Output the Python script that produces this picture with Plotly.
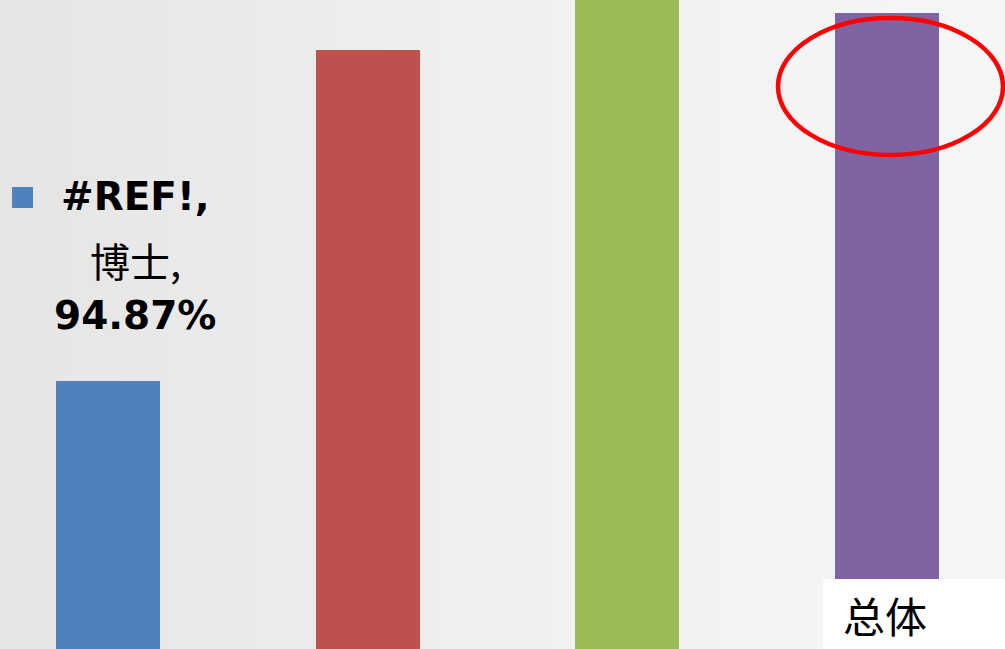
import plotly.graph_objects as go

categories = ["博士", "硕士", "本科", "总体"]
values = [94.87, 97.50, 98.30, 97.79]
colors = ["#4F81BD", "#C0504D", "#9BBB59", "#8064A2"]
series_name = "#REF!"

W, H = 1005, 649
xpos = list(range(len(categories)))

fig = go.Figure()
fig.add_trace(go.Bar(x=xpos, y=values, marker=dict(color=colors, line=dict(width=0)),
                     width=0.40, showlegend=False, hoverinfo="skip"))

# background gradient bands
shapes = []
n = 60
def lerp(a, b, t):
    return tuple(int(round(a[i] + (b[i] - a[i]) * t)) for i in range(3))
c0, c1, c2 = (229, 229, 229), (240, 240, 240), (245, 246, 248)
for i in range(n):
    t = (i + 0.5) / n
    c = lerp(c0, c1, t / 0.5) if t < 0.5 else lerp(c1, c2, (t - 0.5) / 0.5)
    shapes.append(dict(type="rect", xref="paper", yref="paper", x0=i / n, x1=(i + 1) / n + 0.002,
                       y0=0, y1=1, fillcolor="rgb(%d,%d,%d)" % c, line=dict(width=0), layer="below"))

# legend key next to the first data label
shapes.append(dict(type="rect", xref="x", yref="y", xsizemode="pixel", ysizemode="pixel",
                   xanchor=0, yanchor=values[0], x0=-96, x1=-75, y0=173, y1=194,
                   fillcolor=colors[0], line=dict(width=0)))

# white category cell
shapes.append(dict(type="rect", xref="x", yref="paper", x0=2.754, x1=3.6, y0=0, y1=70 / H,
                   fillcolor="white", line=dict(width=0)))

# red ellipse highlight
shapes.append(dict(type="circle", xref="paper", yref="paper", x0=778 / W, x1=1003 / W,
                   y0=1 - 155 / H, y1=1 - 18 / H, line=dict(color="#FF0000", width=4.5),
                   fillcolor="rgba(0,0,0,0)"))

annotations = []
lat = "DejaVu Sans"
cjk = "Noto Sans CJK SC"
for i, (cat, v) in enumerate(zip(categories, values)):
    xs = 27 if i == 0 else 30
    lines = [(series_name + ",", lat, "bold", 185),
             (cat + ",", cjk, "normal", 121),
             ("%.2f%%" % v, lat, "bold", 66)]
    for txt, fam, wt, ys in lines:
        annotations.append(dict(x=i, y=v, xref="x", yref="y", text=txt, showarrow=False,
                                xanchor="center", yanchor="middle", xshift=xs, yshift=ys,
                                font=dict(family=fam, size=39 if fam == lat else 40,
                                          color="black", weight=wt)))

annotations.append(dict(x=3, y=35 / H, xref="x", yref="paper", text=categories[3], showarrow=False,
                        xanchor="center", yanchor="middle", xshift=-2,
                        font=dict(family=cjk, size=42, color="black")))

fig.update_layout(
    width=W, height=H, margin=dict(l=0, r=0, t=0, b=0),
    paper_bgcolor="#EFEFEF", plot_bgcolor="rgba(0,0,0,0)",
    shapes=shapes, annotations=annotations,
    xaxis=dict(range=[-0.416, 3.454], visible=False, fixedrange=True),
    yaxis=dict(range=[92.7406, 97.8972], visible=False, fixedrange=True),
    bargap=0,
)
fig.write_html("out.html", config={"displayModeBar": False},
               post_script="document.body.style.margin='0';document.body.style.overflow='hidden';")
